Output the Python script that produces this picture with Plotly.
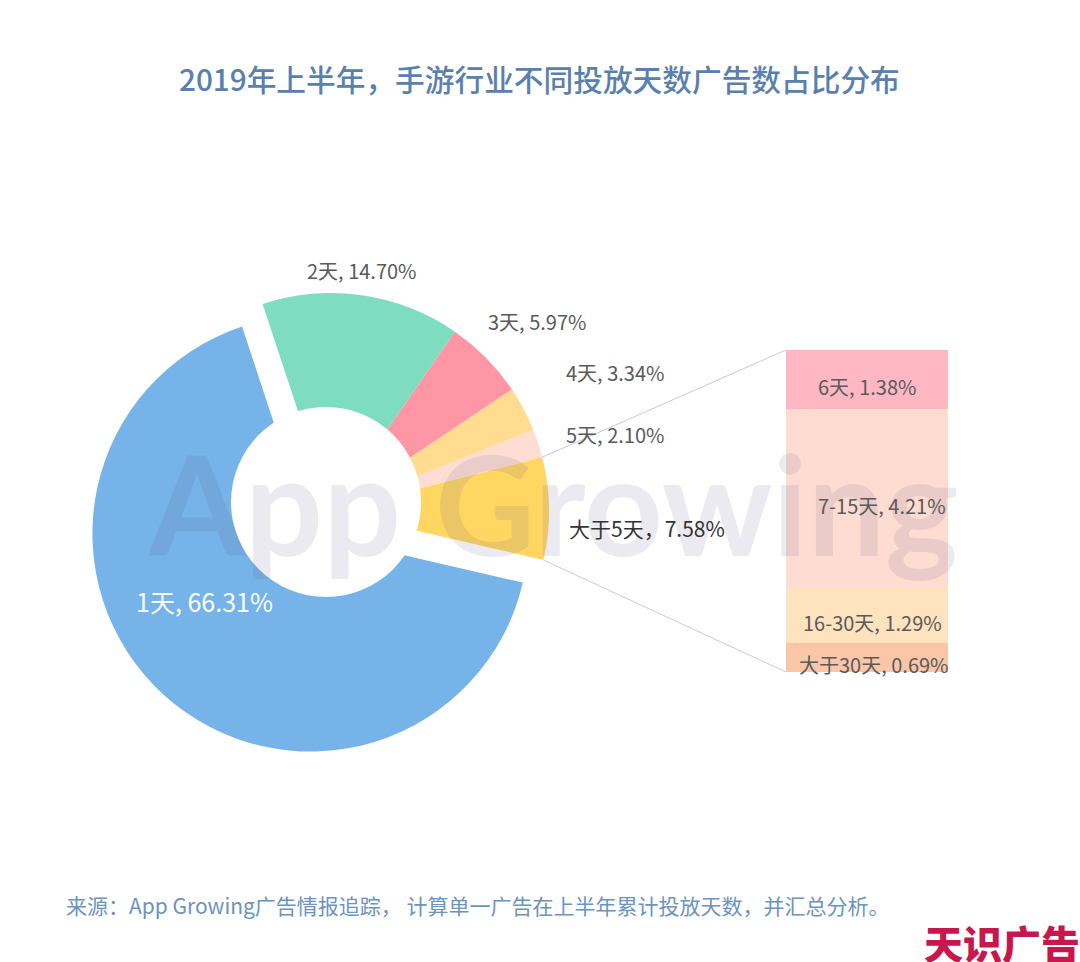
import math
import plotly.graph_objects as go

W, H = 1080, 962
FONT = "Noto Sans CJK SC"

title = "2019年上半年，手游行业不同投放天数广告数占比分布"
source = "来源：App Growing广告情报追踪， 计算单一广告在上半年累计投放天数，并汇总分析。"
brand = "天识广告"
watermark = "App Growing"

pie_labels = ["1天", "2天", "3天", "4天", "5天", "大于5天"]
pie_values = [66.31, 14.70, 5.97, 3.34, 2.10, 7.58]
pie_colors = ["#76B3E8", "#7FDDBF", "#FF96A5", "#FFDC90", "#FFDDD2", "#FFD662"]
pie_pull = [0.14, 0, 0, 0, 0, 0]

bar_labels = ["大于30天", "16-30天", "7-15天", "6天"]
bar_values = [0.69, 1.29, 4.21, 1.38]
bar_colors = ["#F9C6A8", "#FFE2BE", "#FFDCD1", "#FFB8C3"]
bar_label_shift = [7, 5, 15, 0]

# layout geometry (pixels)
cx, cy, radius = 331, 511, 218
rotation = 103
half = radius * (1 + max(pie_pull))
hole_x, hole_y, hole_r = 326, 502, 95
bar_x0, bar_x1, bar_y0, bar_y1 = 786, 948, 350, 672


def px(x):
    return x / W


def py(y):
    return 1 - y / H


fig = go.Figure()
fig.add_trace(go.Pie(
    labels=pie_labels, values=pie_values, sort=False, direction="clockwise",
    rotation=rotation, hole=0, pull=pie_pull,
    marker=dict(colors=pie_colors, line=dict(width=0)),
    textinfo="none", hoverinfo="label+percent", showlegend=False,
    domain=dict(x=[px(cx - half), px(cx + half)], y=[py(cy + half), py(cy - half)]),
))
for lab, val, col in zip(bar_labels, bar_values, bar_colors):
    fig.add_trace(go.Bar(
        x=["细分"], y=[val], name=lab, marker=dict(color=col, line=dict(width=0)),
        showlegend=False, hoverinfo="name+y", xaxis="x", yaxis="y",
    ))

annotations = []


def note(text, x, y, size=20, color="#5A5A5A", **kw):
    annotations.append(dict(
        text=text, x=px(x), y=py(y), xref="paper", yref="paper", showarrow=False,
        xanchor=kw.pop("xanchor", "center"), yanchor="middle",
        font=dict(family=FONT, size=size, color=color, **kw),
    ))


annotations.append(dict(
    text=watermark, x=px(553), y=py(503), xref="paper", yref="paper", showarrow=False,
    xanchor="center", yanchor="middle",
    font=dict(family="Lato", size=138, weight=700, color="rgba(85,85,130,0.12)"),
))
note(title, 539, 78.5, size=29.7, color="#5A80AE", weight=500)
note(source, 64, 905, size=21, color="#6C93BE", xanchor="left")
note(brand, 1002, 942, size=39, color="#C8174E", weight=900)

pie_pos = [(204, 601), (362, 270), (537, 321), (615, 372), (615, 435), (647, 528)]
for i, (lab, val, (x, y)) in enumerate(zip(pie_labels, pie_values, pie_pos)):
    if i == 5:
        note(f"{lab}，{val:.2f}%", x, y, size=21, color="#333333")
    elif i == 0:
        note(f"{lab}, {val:.2f}%", x, y, size=25, color="#FFFFFF")
    else:
        note(f"{lab}, {val:.2f}%", x, y)

base = 0
for lab, val, shift in zip(bar_labels, bar_values, bar_label_shift):
    annotations.append(dict(
        text=f"{lab}, {val:.2f}%", x=0, y=base + val / 2, xref="x", yref="y",
        xshift=shift, yshift=-7, showarrow=False,
        font=dict(family=FONT, size=20, color="#5A5A5A"),
    ))
    base += val

# connector lines from the edge of the "大于5天" slice to the breakdown column
total = sum(pie_values)
end_angle = rotation + 360 * sum(pie_values) / total
start_angle = end_angle - 360 * pie_values[-1] / total
shapes = []
for ang, by in ((start_angle, bar_y0), (end_angle, bar_y1)):
    a = math.radians(ang)
    x0 = cx + radius * math.sin(a)
    y0 = cy - radius * math.cos(a)
    shapes.append(dict(type="line", xref="paper", yref="paper", x0=px(x0), y0=py(y0),
                       x1=px(bar_x0), y1=py(by), line=dict(color="#CFC6D6", width=1)))
# the donut hole sits off-centre from the pulled slice, as in the reference
shapes.append(dict(type="circle", xref="paper", yref="paper", layer="above",
                   x0=px(hole_x - hole_r), x1=px(hole_x + hole_r),
                   y0=py(hole_y + hole_r), y1=py(hole_y - hole_r),
                   fillcolor="#FFFFFF", line=dict(width=0)))

fig.update_layout(
    width=W, height=H, margin=dict(l=0, r=0, t=0, b=0),
    paper_bgcolor="#FFFFFF", plot_bgcolor="rgba(0,0,0,0)",
    barmode="stack", bargap=0,
    xaxis=dict(domain=[px(bar_x0), px(bar_x1)], visible=False, type="category", range=[-0.5, 0.5]),
    yaxis=dict(domain=[py(bar_y1), py(bar_y0)], visible=False, range=[0, sum(bar_values)]),
    annotations=annotations, shapes=shapes,
)
fig.write_html("out.html", config={"displayModeBar": False},
               post_script="document.body.style.margin='0';document.body.style.overflow='hidden';")
